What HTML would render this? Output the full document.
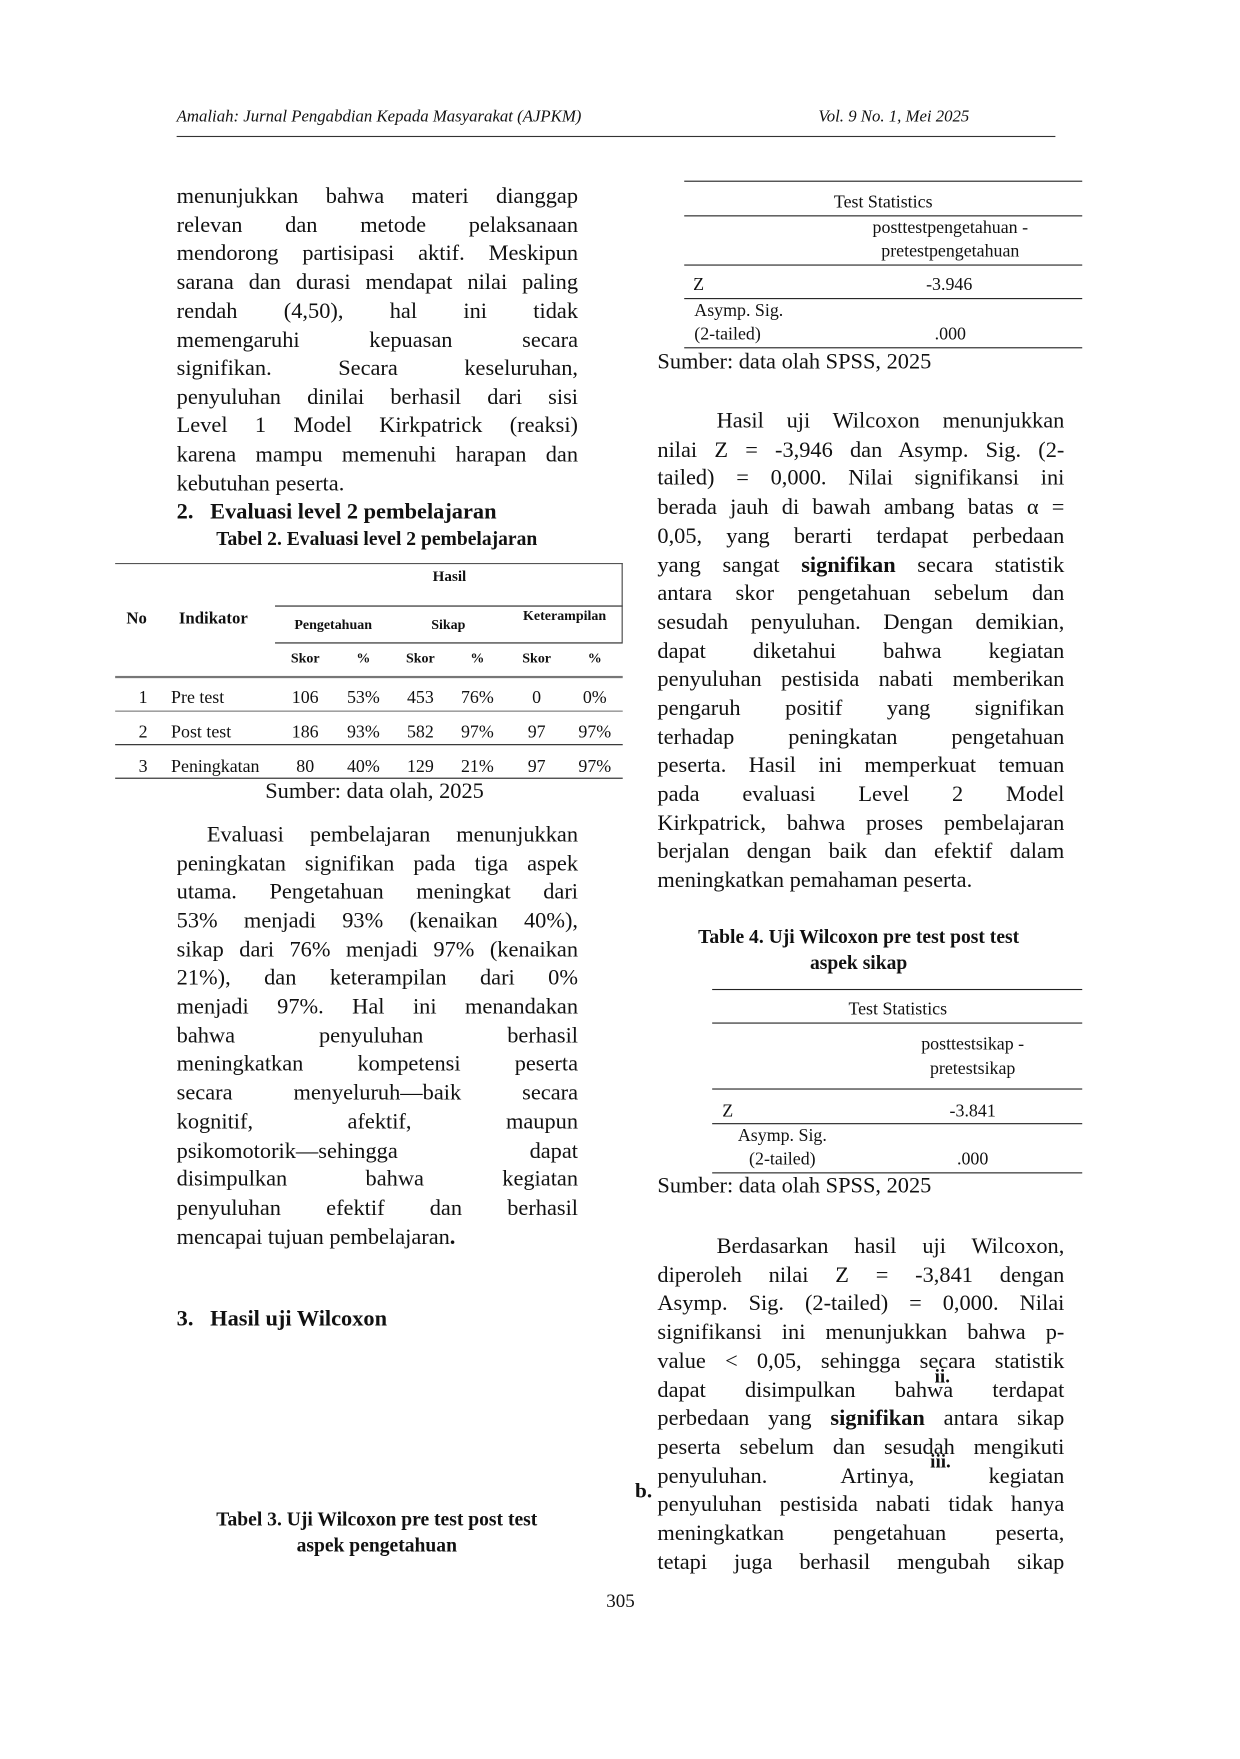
<!DOCTYPE html>
<html><head><meta charset="utf-8">
<style>
html,body{margin:0;padding:0;background:#fff;}
body{width:1240px;height:1753px;overflow:hidden;position:relative;}
#w{position:absolute;left:0;top:4px;width:1110px;height:1570px;transform:scale(1.118);transform-origin:0 0;font-family:"Liberation Serif",serif;color:#111;}
.a{position:absolute;white-space:nowrap;}
.l,.r{position:absolute;height:26px;line-height:26px;font-size:20px;text-align:justify;text-align-last:justify;white-space:normal;overflow:visible;}
.l{left:158px;width:359px;}
.r{left:588px;width:364px;}
.e{text-align-last:left;}
.b{font-weight:bold;}
.hl{position:absolute;height:0;border-top:1px solid #222;}
.ts{font-size:16px;}
.th{font-size:12.5px;font-weight:bold;}
.td{font-size:16px;}
.c{transform:translateX(-50%);}
</style></head><body><div id="w">
<div class="a" style="left:158px;top:93px;font-size:15px;font-style:italic;">Amaliah: Jurnal Pengabdian Kepada Masyarakat (AJPKM)</div>
<div class="a" style="left:732px;top:93px;font-size:15px;font-style:italic;">Vol. 9 No. 1, Mei 2025</div>
<div class="hl" style="left:158px;top:118px;width:786px;border-top:1.5px solid #333;"></div>

<div class="l" style="top:159px">menunjukkan bahwa materi dianggap</div>
<div class="l" style="top:185px">relevan dan metode pelaksanaan</div>
<div class="l" style="top:210px">mendorong partisipasi aktif. Meskipun</div>
<div class="l" style="top:236px">sarana dan durasi mendapat nilai paling</div>
<div class="l" style="top:262px">rendah (4,50), hal ini tidak</div>
<div class="l" style="top:288px">memengaruhi kepuasan secara</div>
<div class="l" style="top:313px">signifikan. Secara keseluruhan,</div>
<div class="l" style="top:339px">penyuluhan dinilai berhasil dari sisi</div>
<div class="l" style="top:364px">Level 1 Model Kirkpatrick (reaksi)</div>
<div class="l" style="top:390px">karena mampu memenuhi harapan dan</div>
<div class="l e" style="top:416px">kebutuhan peserta.</div>
<div class="a b" style="left:158px;top:443px;font-size:20px;">2.&nbsp;&nbsp;&nbsp;Evaluasi level 2 pembelajaran</div>
<div class="a b c" style="left:337px;top:468px;font-size:17.5px;">Tabel 2. Evaluasi level 2 pembelajaran</div>

<div class="hl" style="left:103px;top:500px;width:454px;border-top:1.5px solid #555;"></div>
<div class="hl" style="left:246px;top:538px;width:311px;"></div>
<div class="hl" style="left:246px;top:571px;width:311px;"></div>
<div style="position:absolute;left:556px;top:500px;height:71px;border-left:1.5px solid #444;"></div>
<div class="hl" style="left:103px;top:601px;width:454px;border-top:2px solid #777;"></div>
<div class="hl" style="left:103px;top:632px;width:454px;border-top:1.5px solid #777;"></div>
<div class="hl" style="left:103px;top:662px;width:454px;"></div>
<div class="hl" style="left:103px;top:692px;width:454px;"></div>
<div class="a th c" style="left:402px;top:504px;font-size:13.5px;">Hasil</div>
<div class="a th" style="left:113px;top:542px;font-size:15px;">No</div>
<div class="a th" style="left:160px;top:542px;font-size:15px;">Indikator</div>
<div class="a th c" style="left:298px;top:548px;">Pengetahuan</div>
<div class="a th c" style="left:401px;top:548px;">Sikap</div>
<div class="a th c" style="left:505px;top:540px;">Keterampilan</div>
<div class="a th c" style="left:273px;top:578px;">Skor</div>
<div class="a th c" style="left:325px;top:578px;">%</div>
<div class="a th c" style="left:376px;top:578px;">Skor</div>
<div class="a th c" style="left:427px;top:578px;">%</div>
<div class="a th c" style="left:480px;top:578px;">Skor</div>
<div class="a th c" style="left:532px;top:578px;">%</div>

<div class="a td" style="left:124px;top:612px;">1</div>
<div class="a td" style="left:153px;top:612px;">Pre test</div>
<div class="a td c" style="left:273px;top:612px;">106</div>
<div class="a td c" style="left:325px;top:612px;">53%</div>
<div class="a td c" style="left:376px;top:612px;">453</div>
<div class="a td c" style="left:427px;top:612px;">76%</div>
<div class="a td c" style="left:480px;top:612px;">0</div>
<div class="a td c" style="left:532px;top:612px;">0%</div>

<div class="a td" style="left:124px;top:643px;">2</div>
<div class="a td" style="left:153px;top:643px;">Post test</div>
<div class="a td c" style="left:273px;top:643px;">186</div>
<div class="a td c" style="left:325px;top:643px;">93%</div>
<div class="a td c" style="left:376px;top:643px;">582</div>
<div class="a td c" style="left:427px;top:643px;">97%</div>
<div class="a td c" style="left:480px;top:643px;">97</div>
<div class="a td c" style="left:532px;top:643px;">97%</div>

<div class="a td" style="left:124px;top:674px;">3</div>
<div class="a td" style="left:153px;top:674px;">Peningkatan</div>
<div class="a td c" style="left:273px;top:674px;">80</div>
<div class="a td c" style="left:325px;top:674px;">40%</div>
<div class="a td c" style="left:376px;top:674px;">129</div>
<div class="a td c" style="left:427px;top:674px;">21%</div>
<div class="a td c" style="left:480px;top:674px;">97</div>
<div class="a td c" style="left:532px;top:674px;">97%</div>
<div class="a c" style="left:335px;top:693px;font-size:20px;">Sumber: data olah, 2025</div>

<div class="l" style="top:730px;left:185px;width:332px;">Evaluasi pembelajaran menunjukkan</div>
<div class="l" style="top:756px">peningkatan signifikan pada tiga aspek</div>
<div class="l" style="top:781px">utama. Pengetahuan meningkat dari</div>
<div class="l" style="top:807px">53% menjadi 93% (kenaikan 40%),</div>
<div class="l" style="top:833px">sikap dari 76% menjadi 97% (kenaikan</div>
<div class="l" style="top:858px">21%), dan keterampilan dari 0%</div>
<div class="l" style="top:884px">menjadi 97%. Hal ini menandakan</div>
<div class="l" style="top:910px">bahwa penyuluhan berhasil</div>
<div class="l" style="top:935px">meningkatkan kompetensi peserta</div>
<div class="l" style="top:961px">secara menyeluruh—baik secara</div>
<div class="l" style="top:987px">kognitif, afektif, maupun</div>
<div class="l" style="top:1013px">psikomotorik—sehingga dapat</div>
<div class="l" style="top:1038px">disimpulkan bahwa kegiatan</div>
<div class="l" style="top:1064px">penyuluhan efektif dan berhasil</div>
<div class="l e" style="top:1090px">mencapai tujuan pembelajaran<b>.</b></div>
<div class="a b" style="left:158px;top:1165px;font-size:20px;">3.&nbsp;&nbsp;&nbsp;Hasil uji Wilcoxon</div>
<div class="a b c" style="left:337px;top:1345px;font-size:17.5px;">Tabel 3. Uji Wilcoxon pre test post test</div>
<div class="a b c" style="left:337px;top:1368px;font-size:17.5px;">aspek pengetahuan</div>
<div class="a c" style="left:555px;top:1419px;font-size:17px;">305</div>

<div class="hl" style="left:612px;top:158px;width:356px;"></div>
<div class="a ts c" style="left:790px;top:169px;">Test Statistics</div>
<div class="hl" style="left:612px;top:189px;width:356px;"></div>
<div class="a ts c" style="left:850px;top:192px;">posttestpengetahuan -</div>
<div class="a ts c" style="left:850px;top:213px;">pretestpengetahuan</div>
<div class="hl" style="left:612px;top:233px;width:356px;"></div>
<div class="a ts" style="left:620px;top:243px;">Z</div>
<div class="a ts c" style="left:849px;top:243px;">-3.946</div>
<div class="hl" style="left:612px;top:263px;width:356px;"></div>
<div class="a ts" style="left:621px;top:266px;">Asymp. Sig.</div>
<div class="a ts" style="left:621px;top:287px;">(2-tailed)</div>
<div class="a ts c" style="left:850px;top:287px;">.000</div>
<div class="hl" style="left:612px;top:307px;width:356px;"></div>
<div class="a" style="left:588px;top:309px;font-size:20px;">Sumber: data olah SPSS, 2025</div>

<div class="r" style="top:360px;left:641px;width:311px;">Hasil uji Wilcoxon menunjukkan</div>
<div class="r" style="top:386px">nilai Z = -3,946 dan Asymp. Sig. (2-</div>
<div class="r" style="top:411px">tailed) = 0,000. Nilai signifikansi ini</div>
<div class="r" style="top:437px">berada jauh di bawah ambang batas α =</div>
<div class="r" style="top:463px">0,05, yang berarti terdapat perbedaan</div>
<div class="r" style="top:489px">yang sangat <b>signifikan</b> secara statistik</div>
<div class="r" style="top:514px">antara skor pengetahuan sebelum dan</div>
<div class="r" style="top:540px">sesudah penyuluhan. Dengan demikian,</div>
<div class="r" style="top:566px">dapat diketahui bahwa kegiatan</div>
<div class="r" style="top:591px">penyuluhan pestisida nabati memberikan</div>
<div class="r" style="top:617px">pengaruh positif yang signifikan</div>
<div class="r" style="top:643px">terhadap peningkatan pengetahuan</div>
<div class="r" style="top:668px">peserta. Hasil ini memperkuat temuan</div>
<div class="r" style="top:694px">pada evaluasi Level 2 Model</div>
<div class="r" style="top:720px">Kirkpatrick, bahwa proses pembelajaran</div>
<div class="r" style="top:745px">berjalan dengan baik dan efektif dalam</div>
<div class="r e" style="top:771px">meningkatkan pemahaman peserta.</div>

<div class="a b c" style="left:768px;top:824px;font-size:17.5px;">Table 4. Uji Wilcoxon pre test post test</div>
<div class="a b c" style="left:768px;top:847px;font-size:17.5px;">aspek sikap</div>

<div class="hl" style="left:637px;top:881px;width:331px;"></div>
<div class="a ts c" style="left:803px;top:891px;">Test Statistics</div>
<div class="hl" style="left:637px;top:911px;width:331px;"></div>
<div class="a ts c" style="left:870px;top:922px;">posttestsikap -</div>
<div class="a ts c" style="left:870px;top:944px;">pretestsikap</div>
<div class="hl" style="left:637px;top:970px;width:331px;"></div>
<div class="a ts" style="left:646px;top:982px;">Z</div>
<div class="a ts c" style="left:870px;top:982px;">-3.841</div>
<div class="hl" style="left:637px;top:1001px;width:331px;"></div>
<div class="a ts" style="left:660px;top:1004px;">Asymp. Sig.</div>
<div class="a ts" style="left:670px;top:1025px;">(2-tailed)</div>
<div class="a ts c" style="left:870px;top:1025px;">.000</div>
<div class="hl" style="left:637px;top:1045px;width:331px;"></div>
<div class="a" style="left:588px;top:1046px;font-size:20px;">Sumber: data olah SPSS, 2025</div>

<div class="r" style="top:1098px;left:641px;width:311px;">Berdasarkan hasil uji Wilcoxon,</div>
<div class="r" style="top:1124px">diperoleh nilai Z = -3,841 dengan</div>
<div class="r" style="top:1149px">Asymp. Sig. (2-tailed) = 0,000. Nilai</div>
<div class="r" style="top:1175px">signifikansi ini menunjukkan bahwa p-</div>
<div class="r" style="top:1201px">value &lt; 0,05, sehingga secara statistik</div>
<div class="r" style="top:1227px">dapat disimpulkan bahwa terdapat</div>
<div class="r" style="top:1252px">perbedaan yang <b>signifikan</b> antara sikap</div>
<div class="r" style="top:1278px">peserta sebelum dan sesudah mengikuti</div>
<div class="r" style="top:1304px">penyuluhan. Artinya, kegiatan</div>
<div class="r" style="top:1329px">penyuluhan pestisida nabati tidak hanya</div>
<div class="r" style="top:1355px">meningkatkan pengetahuan peserta,</div>
<div class="r" style="top:1381px">tetapi juga berhasil mengubah sikap</div>
<div class="a b" style="left:836px;top:1218px;font-size:17px;">ii.</div>
<div class="a b" style="left:832px;top:1294px;font-size:17px;">iii.</div>
<div class="a b" style="left:568px;top:1320px;font-size:19px;">b.</div>
</div></body></html>
